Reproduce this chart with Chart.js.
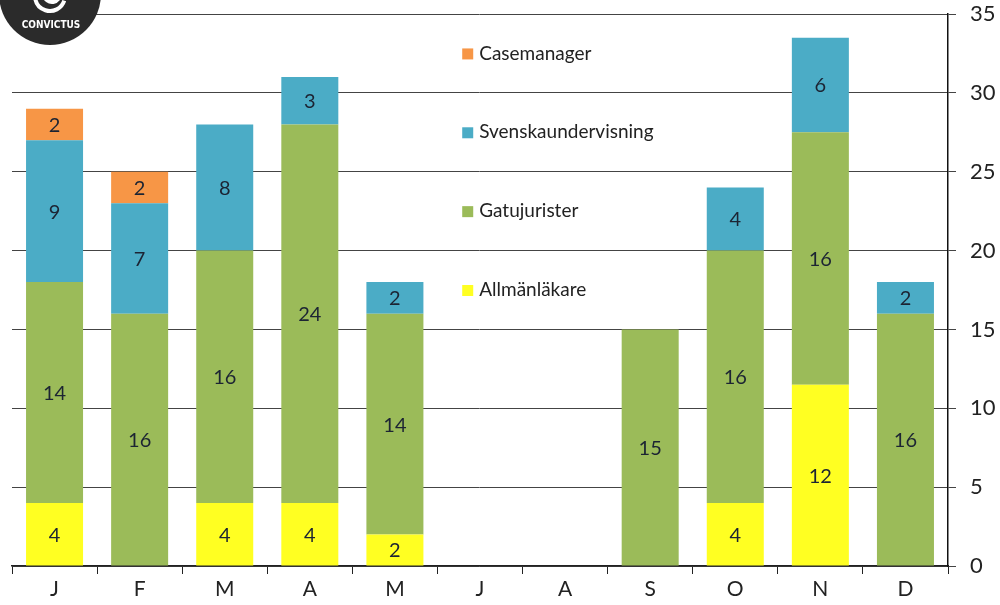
<!DOCTYPE html>
<html>
<head>
<meta charset="utf-8">
<script src="https://cdn.jsdelivr.net/npm/chart.js@4/dist/chart.umd.min.js"></script>
<style>
  html, body { margin: 0; padding: 0; background: #fff; }
  #wrap { width: 1000px; height: 605px; position: relative; }
</style>
</head>
<body>
<div id="wrap"><canvas id="c" width="1000" height="605"></canvas></div>
<script>
const months = ['J','F','M','A','M','J','A','S','O','N','D'];
const allmanlakare = [4, null, 4, 4, 2, null, null, null, 4, 11.5, null];
const gatujurister = [14, 16, 16, 24, 14, null, null, 15, 16, 16, 16];
const svenskaundervisning = [9, 7, 8, 3, 2, null, null, null, 4, 6, 2];
const casemanager = [2, 2, null, null, null, null, null, null, null, null, null];
const yTickValues = [0, 5, 10, 15, 20, 25, 30, 35];

const FONT = 'Lato, "Open Sans", sans-serif';

const colors = {
  allman: '#FFFF22',
  gatu: '#9BBB59',
  svensk: '#4BACC6',
  case: '#F79646'
};

const dataLabels = {
  id: 'dataLabels',
  afterDatasetsDraw(chart) {
    const ctx = chart.ctx;
    ctx.save();
    ctx.font = '20px ' + FONT;
    ctx.fillStyle = '#1c2433';
    ctx.textAlign = 'center';
    ctx.textBaseline = 'middle';
    chart.data.datasets.forEach((ds, i) => {
      const meta = chart.getDatasetMeta(i);
      meta.data.forEach((bar, j) => {
        const v = ds.data[j];
        if (v === null || v === undefined) return;
        const p = bar.getProps(['x', 'y', 'base'], true);
        ctx.fillText(String(Math.round(v)), p.x, (p.y + p.base) / 2 + 1);
      });
    });
    ctx.restore();
  }
};

const innerLegend = {
  id: 'innerLegend',
  afterDatasetsDraw(chart) {
    const ctx = chart.ctx;
    const ys = chart.scales.y;
    const area = chart.chartArea;
    const x0 = area.left + 0.481 * (area.right - area.left);
    const items = [
      ['Casemanager', colors.case, 32.5],
      ['Svenskaundervisning', colors.svensk, 27.5],
      ['Gatujurister', colors.gatu, 22.5],
      ['Allmänläkare', colors.allman, 17.5]
    ];
    ctx.save();
    ctx.font = '19px ' + FONT;
    ctx.textBaseline = 'middle';
    ctx.textAlign = 'left';
    items.forEach(([label, col, val]) => {
      const y = ys.getPixelForValue(val);
      ctx.fillStyle = col;
      ctx.fillRect(x0, y - 5, 11, 11);
      ctx.fillStyle = '#222';
      ctx.fillText(label, x0 + 17, y);
    });
    ctx.restore();
  }
};

const logo = {
  id: 'logo',
  afterDraw(chart) {
    const ctx = chart.ctx;
    ctx.save();
    ctx.fillStyle = '#2b2b2b';
    ctx.beginPath();
    ctx.arc(50, -6, 51, 0, Math.PI * 2);
    ctx.fill();
    ctx.strokeStyle = '#fff';
    ctx.lineWidth = 4;
    ctx.beginPath();
    ctx.arc(50, -4, 15, 0.1 * Math.PI, 0.95 * Math.PI);
    ctx.stroke();
    ctx.beginPath();
    ctx.arc(52, -6, 8, 0.2 * Math.PI, 0.9 * Math.PI);
    ctx.stroke();
    ctx.fillStyle = '#fff';
    ctx.font = 'bold 10px "DejaVu Sans Condensed", "DejaVu Sans", sans-serif';
    ctx.textAlign = 'center';
    ctx.textBaseline = 'middle';
    ctx.fillText('CONVICTUS', 51, 25);
    ctx.restore();
  }
};

new Chart(document.getElementById('c'), {
  type: 'bar',
  data: {
    labels: months,
    datasets: [
      { label: 'Allmänläkare', data: allmanlakare, backgroundColor: colors.allman },
      { label: 'Gatujurister', data: gatujurister, backgroundColor: colors.gatu },
      { label: 'Svenskaundervisning', data: svenskaundervisning, backgroundColor: colors.svensk },
      { label: 'Casemanager', data: casemanager, backgroundColor: colors.case }
    ]
  },
  options: {
    responsive: false,
    animation: false,
    devicePixelRatio: 1,
    layout: { padding: { left: 12, top: 14, right: 0, bottom: 0 } },
    datasets: { bar: { categoryPercentage: 1, barPercentage: 0.67, borderWidth: 0 } },
    plugins: {
      legend: { display: false },
      tooltip: { enabled: false },
      title: { display: false }
    },
    scales: {
      x: {
        stacked: true,
        grid: { offset: true, drawOnChartArea: false, drawTicks: true, tickLength: 8, color: '#222', lineWidth: 1 },
        border: { display: true, color: '#222', width: 1.5 },
        ticks: { font: { family: FONT, size: 21 }, color: '#222', padding: 3 },
        afterFit(scale) { scale.height = 39; scale.paddingLeft = 0; scale.paddingRight = 0; }
      },
      y: {
        stacked: true,
        position: 'right',
        min: 0,
        max: 35,
        afterBuildTicks(scale) { scale.ticks = yTickValues.map(v => ({ value: v })); },
        grid: { color: '#444', lineWidth: 1, drawTicks: true, tickLength: 8 },
        border: { display: true, color: '#111', width: 1.5 },
        ticks: { font: { family: FONT, size: 22 }, color: '#222', padding: 14 },
        afterFit(scale) { scale.width = 52; scale.paddingTop = 0; scale.paddingBottom = 0; }
      }
    }
  },
  plugins: [dataLabels, innerLegend, logo]
});
</script>
</body>
</html>
